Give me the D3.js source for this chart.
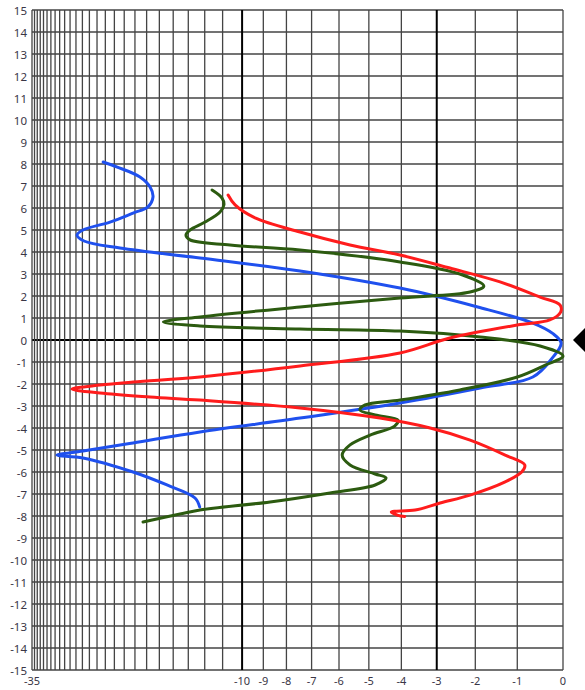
<!DOCTYPE html>
<html>
<head>
<meta charset="utf-8">
<script src="https://cdn.jsdelivr.net/npm/d3@7"></script>
<style>
  body { margin: 0; background: #fff; }
  svg { display: block; }
  text { font-family: "Noto Sans", "DejaVu Sans", sans-serif; font-size: 11.5px; fill: #3a3646; }
</style>
</head>
<body>
<svg id="chart" width="585" height="690"></svg>
<script>
// Level axis (dB) labels and vertical scale labels
const xTickLabels = [-35, -10, -9, -8, -7, -6, -5, -4, -3, -2, -1, 0];
const yTickLabels = d3.range(-15, 16);
const xGridValues = d3.range(-35, 1);
const xMajorGrid = [-10, -3];

// Traces: [vertical position, level in dB]
const blueTrace = [
  [8.09,-20.25],[7.86,-18.7],[7.41,-16.56],[6.95,-15.72],[6.5,-15.49],[6.05,-15.9],
  [5.77,-17.17],[5.36,-19.47],[5.0,-22.91],[4.77,-23.83],[4.5,-22.76],[4.18,-18.42],
  [3.73,-12.28],[3.14,-7.45],[2.36,-4.04],[1.5,-1.94],[0.77,-0.65],
  [0.3,-0.22],[-0.14,-0.04],[-0.8,-0.22],[-1.68,-0.65],[-2.18,-1.88],[-2.86,-4.04],
  [-3.55,-7.45],[-4.18,-12.28],[-4.68,-17.17],[-5.05,-22.91],[-5.23,-27.57],
  [-5.36,-22.91],[-6.0,-17.17],[-6.59,-14.44],[-7.18,-12.58],[-7.59,-12.3]
];
const greenTrace = [
  [6.82,-11.58],[6.45,-11.03],[6.14,-10.93],[5.82,-11.14],[5.36,-11.98],[5.0,-12.89],
  [4.77,-13.15],[4.55,-12.89],[4.32,-10.61],[4.09,-7.45],[3.55,-4.04],[3.0,-2.39],
  [2.45,-1.79],[2.18,-2.13],[1.91,-4.04],[1.5,-7.45],[1.05,-12.28],[0.82,-14.7],
  [0.64,-12.28],[0.5,-7.45],[0.41,-4.04],[0.14,-1.88],[-0.27,-0.49],[-0.73,0],
  [-1.14,-0.38],[-1.68,-1.0],[-2.27,-2.39],[-2.73,-4.04],[-2.95,-5.12],[-3.18,-5.29],
  [-3.41,-4.8],[-3.64,-4.1],[-3.91,-4.2],[-4.32,-4.96],[-4.77,-5.62],[-5.23,-5.89],
  [-5.68,-5.62],[-6.09,-4.8],[-6.27,-4.46],[-6.59,-4.8],[-6.95,-6.32],[-7.36,-8.7],
  [-7.73,-12.28],[-7.91,-13.54],[-8.27,-16.3]
];
const redTrace = [
  [6.59,-10.71],[6.14,-10.35],[5.55,-9.38],[4.91,-7.45],[4.32,-5.62],[3.86,-4.04],
  [3.27,-2.65],[2.64,-1.40],[1.95,-0.49],[1.59,-0.06],[1.27,-0.05],[0.91,-0.28],
  [0.68,-1.0],[0.09,-2.65],[-0.59,-4.04],[-1.18,-7.45],[-1.68,-12.28],[-1.91,-17.17],
  [-2.05,-20.63],[-2.23,-24.66],[-2.41,-20.63],[-2.59,-15.72],[-2.73,-12.28],
  [-3.09,-7.45],[-3.55,-4.65],[-4.0,-3.18],[-4.55,-2.13],[-5.23,-1.28],[-5.68,-0.83],
  [-6.0,-0.9],[-6.45,-1.28],[-7.05,-2.13],[-7.41,-2.91],[-7.73,-3.6],[-7.82,-4.3],
  [-7.97,-4.1],[-8.02,-3.9]
];

const traceColors = { blue: "#1f50ee", green: "#2c5b10", red: "#ff1c1c" };

const plotLeft = 32, plotRight = 563, plotTop = 10, plotBottom = 670;

// Level axis: linear in 10^(dB/27), which compresses the low end
const amp = d => Math.pow(10, d / 27);
const ampScale = d3.scaleLinear().domain([amp(-35), amp(0)]).range([plotLeft, plotRight]);
const x = d => ampScale(amp(d));
const y = d3.scaleLinear().domain([-15, 15]).range([plotBottom, plotTop]);

const svg = d3.select("#chart");

// Horizontal grid
svg.append("g").selectAll("line").data(yTickLabels).join("line")
  .attr("x1", plotLeft).attr("x2", plotRight)
  .attr("y1", d => y(d)).attr("y2", d => y(d))
  .attr("stroke", d => d === 0 ? "#000" : "#444")
  .attr("stroke-width", d => d === 0 ? 2 : 1.4);

// Vertical grid
svg.append("g").selectAll("line").data(xGridValues).join("line")
  .attr("x1", d => x(d)).attr("x2", d => x(d))
  .attr("y1", plotTop).attr("y2", plotBottom)
  .attr("stroke", d => xMajorGrid.includes(d) ? "#000" : "#444")
  .attr("stroke-width", d => xMajorGrid.includes(d) ? 2 : 1.3);

// Y labels
svg.append("g").selectAll("text").data(yTickLabels).join("text")
  .attr("x", 27).attr("y", d => y(d) + 2)
  .attr("text-anchor", "end").attr("dominant-baseline", "middle")
  .text(d => d);

// X labels
svg.append("g").selectAll("text").data(xTickLabels).join("text")
  .attr("x", d => x(d)).attr("y", 682)
  .attr("text-anchor", "middle").attr("dominant-baseline", "middle")
  .style("font-size", "11px")
  .text(d => d);

// Traces
const line = d3.line()
  .x(d => x(d[1]))
  .y(d => y(d[0]))
  .curve(d3.curveCatmullRom.alpha(0.5));

[["blue", blueTrace], ["green", greenTrace], ["red", redTrace]].forEach(([k, data]) => {
  svg.append("path")
    .datum(data)
    .attr("d", line)
    .attr("fill", "none")
    .attr("stroke", traceColors[k])
    .attr("stroke-width", 3)
    .attr("stroke-linejoin", "round")
    .attr("stroke-linecap", "round");
});

// On-axis marker at the right edge
const mx = x(0) + 22, my = y(0);
svg.append("path")
  .attr("d", `M${mx - 12},${my} L${mx},${my - 12} L${mx + 12},${my} L${mx},${my + 12} Z`)
  .attr("fill", "#000");
</script>
</body>
</html>
